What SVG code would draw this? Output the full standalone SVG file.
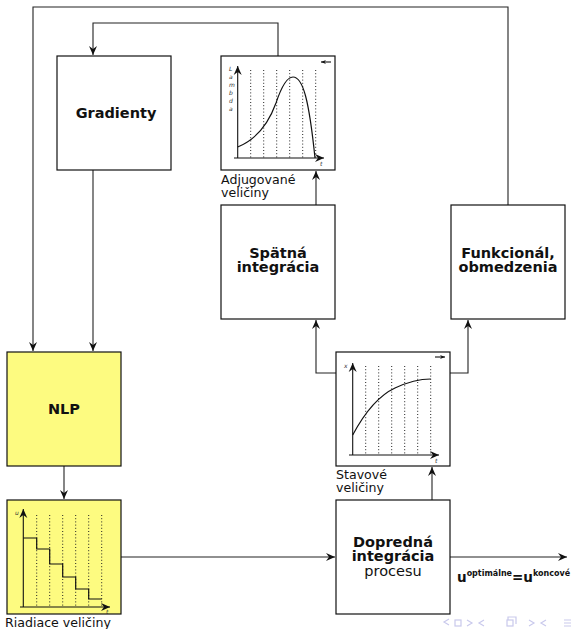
<svg xmlns="http://www.w3.org/2000/svg" width="571" height="629" viewBox="0 0 571 629">
<style>
.box{fill:#fff;stroke:#111;stroke-width:1.2}
.yel{fill:#fdfb80;stroke:#111;stroke-width:1.2}
.b{font-family:"DejaVu Sans",sans-serif;font-weight:bold;font-size:14.5px;fill:#111;text-anchor:middle}
.n{font-family:"DejaVu Sans",sans-serif;font-size:14.5px;fill:#111;text-anchor:middle}
.lbl{font-family:"DejaVu Sans",sans-serif;font-size:12.6px;fill:#111}
.c{fill:none;stroke:#222;stroke-width:1.1}
.ax{fill:none;stroke:#111;stroke-width:1.1}
.dot{stroke:#222;stroke-width:1;stroke-dasharray:1 2.2}
.cur{fill:none;stroke:#111;stroke-width:1.2}
.sm{font-family:"DejaVu Sans",sans-serif;font-style:italic;font-size:6px;fill:#333}
.nav{fill:none;stroke:#c9c9ec;stroke-width:1.2}
</style>
<defs>
<marker id="ah" viewBox="-9 -5 10 10" refX="0" refY="0" markerWidth="10" markerHeight="10" markerUnits="userSpaceOnUse" orient="auto">
<path d="M0,0 L-9,-4 L-6,0 L-9,4 Z" fill="#111"/>
</marker>
<marker id="sa" viewBox="-6 -3 7 6" refX="0" refY="0" markerWidth="6" markerHeight="6" markerUnits="userSpaceOnUse" orient="auto">
<path d="M0,0 L-6,-2.5 L-4,0 L-6,2.5 Z" fill="#111"/>
</marker>
</defs>

<g id="connectors">
<polyline class="c" points="508,205 508,7 33,7 33,351" marker-end="url(#ah)"/>
<polyline class="c" points="278,56 278,23 93,23 93,55" marker-end="url(#ah)"/>
<polyline class="c" points="93,170 93,351" marker-end="url(#ah)"/>
<polyline class="c" points="64,466 64,499" marker-end="url(#ah)"/>
<polyline class="c" points="121,557 335,557" marker-end="url(#ah)"/>
<polyline class="c" points="432,500 432,467" marker-end="url(#ah)"/>
<polyline class="c" points="336,373 316,373 316,320" marker-end="url(#ah)"/>
<polyline class="c" points="450,373 468,373 468,320" marker-end="url(#ah)"/>
<polyline class="c" points="316,205 316,171" marker-end="url(#ah)"/>
<polyline class="c" points="450,557 567,557" marker-end="url(#ah)"/>
</g>

<g id="gradienty">
<rect class="box" x="57" y="56" width="114" height="114"/>
<text class="b" x="116" y="118">Gradienty</text>
</g>

<g id="nlp">
<rect class="yel" x="7" y="352" width="114" height="114"/>
<text class="b" x="64" y="414">NLP</text>
</g>

<g id="riadiace">
<rect class="yel" x="7" y="500" width="114" height="114"/>
<g>
<line class="dot" x1="36.7" y1="515" x2="36.7" y2="607"/>
<line class="dot" x1="49.7" y1="515" x2="49.7" y2="607"/>
<line class="dot" x1="62.7" y1="515" x2="62.7" y2="607"/>
<line class="dot" x1="75.7" y1="515" x2="75.7" y2="607"/>
<line class="dot" x1="88.7" y1="515" x2="88.7" y2="607"/>
<line class="dot" x1="101.7" y1="515" x2="101.7" y2="607"/>
</g>
<line class="ax" x1="23.3" y1="607" x2="23.3" y2="509" marker-end="url(#ah)"/>
<line class="ax" x1="20" y1="607" x2="110" y2="607" marker-end="url(#ah)"/>
<polyline class="cur" points="23.3,538 36.7,538 36.7,549 49.7,549 49.7,564 62.7,564 62.7,577 75.7,577 75.7,589 88.7,589 88.7,599 101.7,599"/>
<text class="sm" x="15" y="515">u</text>
<text class="sm" x="106" y="614">t</text>
<text class="lbl" x="5" y="627">Riadiace veličiny</text>
</g>

<g id="adjugovane">
<rect class="box" x="221" y="56" width="114" height="114"/>
<g>
<line class="dot" x1="250.7" y1="70" x2="250.7" y2="158"/>
<line class="dot" x1="263.7" y1="70" x2="263.7" y2="158"/>
<line class="dot" x1="276.7" y1="70" x2="276.7" y2="158"/>
<line class="dot" x1="289.7" y1="70" x2="289.7" y2="158"/>
<line class="dot" x1="302.7" y1="70" x2="302.7" y2="158"/>
<line class="dot" x1="315.7" y1="70" x2="315.7" y2="158"/>
</g>
<line class="ax" x1="237.7" y1="158" x2="237.7" y2="66" marker-end="url(#ah)"/>
<line class="ax" x1="234" y1="158" x2="324" y2="158" marker-end="url(#ah)"/>
<path class="cur" d="M237.7,147 C255,140 268,125 276,103 C282,85 287,77 293,77 C303,77 309,100 315,158"/>
<line class="ax" x1="331" y1="62" x2="321" y2="62" marker-end="url(#sa)"/>
<text class="sm" x="229" y="71">L</text>
<text class="sm" x="229" y="79">a</text>
<text class="sm" x="229" y="87">m</text>
<text class="sm" x="229" y="95">b</text>
<text class="sm" x="229" y="103">d</text>
<text class="sm" x="229" y="111">a</text>
<text class="sm" x="320" y="166">t</text>
<text class="lbl" x="221" y="184">Adjugované</text>
<text class="lbl" x="221" y="197">veličiny</text>
</g>

<g id="spatna">
<rect class="box" x="221" y="205" width="114" height="114"/>
<text class="b" x="278" y="258">Spätná</text>
<text class="b" x="278" y="272">integrácia</text>
</g>

<g id="funkcional">
<rect class="box" x="451" y="205" width="114" height="114"/>
<text class="b" x="508" y="258">Funkcionál,</text>
<text class="b" x="508" y="272">obmedzenia</text>
</g>

<g id="stavove">
<rect class="box" x="336" y="352" width="114" height="114"/>
<g>
<line class="dot" x1="365.7" y1="366" x2="365.7" y2="455"/>
<line class="dot" x1="378.7" y1="366" x2="378.7" y2="455"/>
<line class="dot" x1="391.7" y1="366" x2="391.7" y2="455"/>
<line class="dot" x1="404.7" y1="366" x2="404.7" y2="455"/>
<line class="dot" x1="417.7" y1="366" x2="417.7" y2="455"/>
<line class="dot" x1="430.7" y1="366" x2="430.7" y2="455"/>
</g>
<line class="ax" x1="352.7" y1="455" x2="352.7" y2="363" marker-end="url(#ah)"/>
<line class="ax" x1="349" y1="455" x2="439" y2="455" marker-end="url(#ah)"/>
<path class="cur" d="M352.7,435 C365,412 380,395 395,388 C410,381 420,379 430.7,379"/>
<line class="ax" x1="435" y1="357" x2="445" y2="357" marker-end="url(#sa)"/>
<text class="sm" x="344" y="368">x</text>
<text class="sm" x="435" y="463">t</text>
<text class="lbl" x="336" y="479">Stavové</text>
<text class="lbl" x="336" y="492">veličiny</text>
</g>

<g id="dopredna">
<rect class="box" x="336" y="500" width="114" height="114"/>
<text class="b" x="393" y="547">Dopredná</text>
<text class="b" x="393" y="561">integrácia</text>
<text class="n" x="393" y="576">procesu</text>
</g>

<g id="output-label">
<text font-family="DejaVu Sans, sans-serif" font-weight="bold" font-size="13.5px" fill="#111" x="457" y="582">u<tspan font-size="8px" dy="-6">optimálne</tspan><tspan dy="6">=u</tspan><tspan font-size="8px" dy="-6">koncové</tspan></text>
</g>

<g id="nav">
<path class="nav" d="M449,625 L444,622 L449,619"/>
<rect class="nav" x="455" y="620" width="6" height="6"/>
<path class="nav" d="M467,620 L472,623 L467,626"/>
<path class="nav" d="M484,620 L479,623 L484,626"/>
<rect class="nav" x="507" y="620" width="6" height="6"/>
<path class="nav" d="M508,620 L508,617 L516,617 L516,624"/>
<path class="nav" d="M529,620 L534,623 L529,626"/>
<path class="nav" d="M546,620 L541,623 L546,626"/>
<path class="nav" d="M564,620 L571,620 M564,623 L571,623 M564,626 L571,626"/>
</g>
</svg>
